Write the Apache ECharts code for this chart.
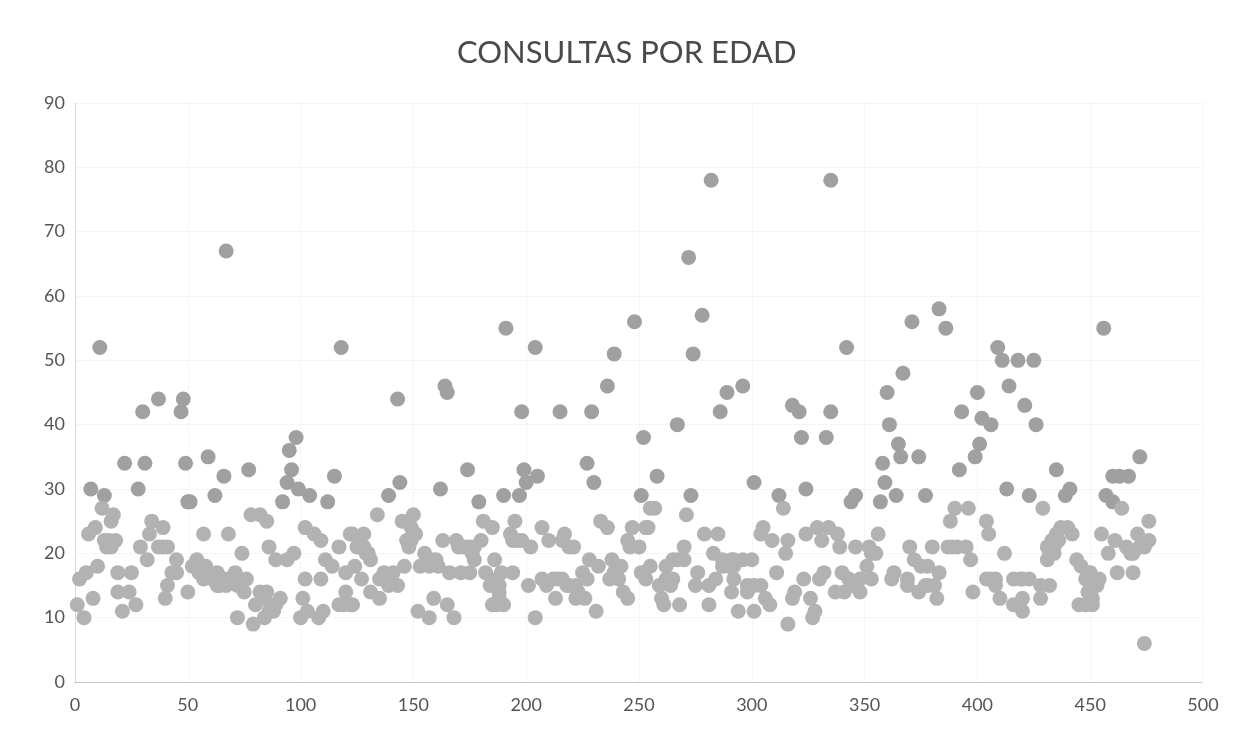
<!DOCTYPE html>
<html><head><meta charset="utf-8">
<style>html,body{margin:0;padding:0;background:#fff}#c{width:1237px;height:740px}</style>
<script src="https://cdn.jsdelivr.net/npm/echarts@6/dist/echarts.min.js"></script>
</head><body><div id="c"></div>
<script>
const chartTitle = "CONSULTAS POR EDAD";
const xTicks = [0,50,100,150,200,250,300,350,400,450,500];
const yTicks = [0,10,20,30,40,50,60,70,80,90];

const indexA = [11,37,30,48,47,98,95,22,31,49,59,66,77,115,96,94,7,13,28,62,51,50,99,104,112,92,12,17,16,34,78,82,85,9,6,39,33,57,68,102,106,109,123,15,18,14,29,37,41,86,117,125,74,97,89,94,32,45,111,114,54,52,58,63,71,45,43,10,5,2,19,25,76,70,66,57,41,64,67,75,82,85,50,19,24,40,8,1,27,21,4,91,80,88,84,79,72,101,103,100,110,108,117,120,122,102,109,120,124,67];
const ageA   = [52,44,42,44,42,38,36,34,34,34,35,32,33,32,33,31,30,29,30,29,28,28,30,29,28,28,27,26,25,25,26,26,25,24,23,24,23,23,23,24,23,22,23,22,22,21,21,21,21,21,21,21,20,20,19,19,19,19,19,18,19,18,18,17,17,17,17,18,17,16,17,17,16,16,16,16,15,15,15,14,14,14,14,14,14,13,13,12,12,11,10,13,12,11,10,9,10,13,11,10,11,10,12,14,12,16,16,17,18,67];

const indexB = [191,204,248,239,236,143,164,165,198,215,229,252,199,205,200,227,230,174,144,139,134,162,179,190,197,251,255,181,185,195,193,207,217,233,236,247,253,245,250,246,150,145,149,151,147,148,128,122,126,129,131,163,169,173,180,177,170,176,177,186,155,160,153,157,161,166,171,175,182,194,189,184,188,188,185,190,188,198,202,210,216,219,221,228,232,238,242,237,241,243,245,225,227,222,207,212,216,219,201,209,213,222,226,231,204,146,141,137,135,139,143,127,131,135,123,159,165,152,157,168,118];
const ageB   = [55,52,56,51,46,44,46,45,42,42,42,38,33,32,31,34,31,33,31,29,26,30,28,29,29,29,27,25,24,25,23,24,23,25,24,24,24,22,21,21,26,25,24,23,22,21,23,23,21,20,19,22,22,21,22,21,21,20,19,19,20,19,18,18,18,17,17,17,17,17,17,15,15,14,12,12,13,22,21,22,22,21,21,19,18,19,18,16,16,14,13,17,16,15,16,16,16,15,15,15,13,13,13,11,10,18,17,17,16,15,15,16,14,13,12,13,12,11,10,10,52];

const indexC = [342,371,274,289,296,286,267,318,321,335,322,333,367,360,361,365,366,374,358,359,364,357,377,346,344,324,312,314,301,258,273,257,271,254,279,285,305,304,309,316,315,329,334,324,338,331,339,346,352,356,355,370,380,372,375,378,351,270,270,265,262,255,251,253,265,259,264,260,261,268,281,276,275,281,284,283,287,292,300,296,287,292,292,291,298,304,298,306,308,294,301,311,323,319,318,326,328,327,316,332,330,340,343,348,353,337,341,348,363,362,369,369,374,377,381,382,383,278,282,335,272];
const ageC   = [52,56,51,45,46,42,40,43,42,42,38,38,48,45,40,37,35,35,34,31,29,28,29,29,28,30,29,27,31,32,29,27,26,24,23,23,24,23,22,22,20,24,24,23,23,22,21,21,21,23,20,21,21,19,18,18,18,21,19,19,18,18,17,16,16,15,15,13,12,12,12,17,15,15,16,20,19,19,19,19,18,18,16,14,15,15,14,13,12,11,11,17,16,14,13,13,11,10,9,17,16,17,16,16,16,14,14,14,17,16,16,15,14,15,15,13,17,57,78,78,66];

const indexD = [386,456,409,411,418,425,400,414,421,393,402,406,426,401,399,392,435,474,413,423,429,441,439,460,463,467,457,460,464,476,390,396,388,404,405,437,440,442,435,433,431,434,434,431,455,461,466,471,476,474,458,469,462,469,444,446,449,454,448,451,450,451,445,451,412,397,387,391,395,398,404,408,408,410,416,423,420,416,420,428,432,428,472,383];
const ageD   = [55,55,52,50,50,50,45,46,43,42,41,40,40,37,35,33,33,6,30,29,27,30,29,32,32,32,29,28,27,25,27,27,25,25,23,24,24,23,23,22,21,21,20,19,23,22,21,23,22,21,20,20,17,17,19,18,17,16,16,15,14,13,12,12,20,19,21,21,21,14,16,16,15,13,16,16,13,12,11,13,15,15,35,58];

const indexE = [16,13,39,55,56,61,63,68,72,73,83,87,89,86,119,126,128,130,138,140,187,187,156,158,172,175,214,218,223,239,196,194,149,291,290,345,301,353,252,267,262,389,378,436,432,453,449,448,450,472,468,420,419,406];
const ageE   = [21,22,21,17,18,16,15,16,15,15,13,12,12,11,12,22,21,20,16,16,16,12,19,19,21,21,16,15,14,17,22,22,22,19,18,15,15,20,17,19,16,21,15,22,20,15,14,12,17,21,20,16,16,16];

const xValues = [...indexA, ...indexB, ...indexC, ...indexD, ...indexE];
const yValues = [...ageA, ...ageB, ...ageC, ...ageD, ...ageE];
const points = xValues.map((x, i) => [x, yValues[i]]);

const font = "Lato, 'Open Sans', sans-serif";
const grid = {type: 'dotted', color: '#ececec', width: 1};
echarts.init(document.getElementById('c'), null, {renderer: 'canvas'}).setOption({
  animation: false,
  backgroundColor: '#fff',
  title: {text: chartTitle, left: 457, top: 37, padding: 0, itemGap: 0,
    textStyle: {fontFamily: font, fontSize: 31, fontWeight: 'normal', color: '#4a4a4a'}},
  grid: {left: 75, right: 34, top: 103, bottom: 58},
  xAxis: {type: 'value', min: xTicks[0], max: xTicks[xTicks.length-1], interval: 50,
    axisLine: {show: true, onZero: false, lineStyle: {type: 'dotted', color: '#bdbdbd'}},
    axisTick: {show: false}, splitLine: {show: true, lineStyle: grid},
    axisLabel: {fontFamily: font, fontSize: 18, color: '#555', margin: 14}},
  yAxis: {type: 'value', min: yTicks[0], max: yTicks[yTicks.length-1], interval: 10,
    axisLine: {show: true, lineStyle: {type: 'dotted', color: '#cfcfcf'}},
    axisTick: {show: false}, splitLine: {show: true, lineStyle: grid},
    axisLabel: {fontFamily: font, fontSize: 18, color: '#555', margin: 10}},
  series: [{type: 'scatter', data: points, symbol: 'circle', symbolSize: 15, silent: true,
    itemStyle: {opacity: 1, color: p => p.value[1] >= 28 ? '#a0a0a0' : '#b2b2b2'}}]
});
</script></body></html>
